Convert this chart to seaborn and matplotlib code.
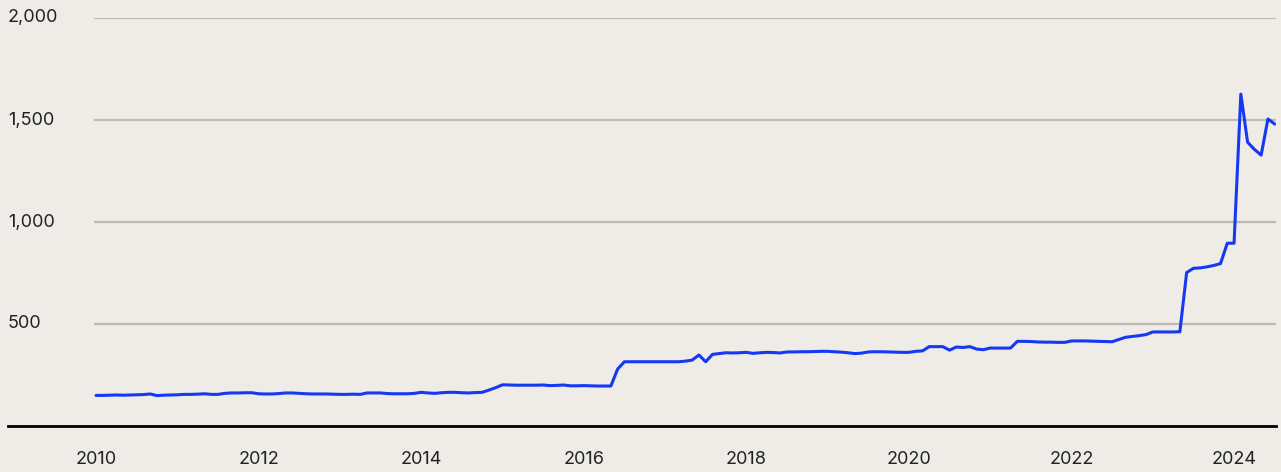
import numpy as np
import pandas as pd
import matplotlib
matplotlib.use("Agg")
import matplotlib.pyplot as plt
import seaborn as sns

# Monthly values, Jan 2010 .. Jul 2024
start_year = 2010
values_2010 = [150, 150, 151, 152, 151, 152, 153, 154, 157, 149, 151, 152]
values_2011 = [153, 155, 155, 156, 158, 155, 155, 160, 162, 162, 163, 163]
values_2012 = [158, 157, 157, 159, 162, 162, 160, 158, 157, 157, 157, 156]
values_2013 = [155, 155, 156, 155, 162, 162, 162, 159, 158, 158, 158, 160]
values_2014 = [165, 162, 160, 163, 165, 165, 163, 162, 164, 165, 176, 188]
values_2015 = [202, 201, 200, 200, 200, 200, 201, 198, 199, 201, 197, 197]
values_2016 = [198, 197, 196, 196, 196, 279, 315, 315, 315, 315, 315, 315]
values_2017 = [315, 315, 315, 318, 323, 348, 315, 351, 355, 359, 358, 359]
values_2018 = [361, 356, 359, 361, 360, 358, 363, 363, 364, 364, 365, 366]
values_2019 = [366, 364, 362, 359, 355, 357, 363, 364, 364, 363, 362, 361]
values_2020 = [361, 366, 368, 389, 389, 389, 372, 387, 385, 389, 377, 374]
values_2021 = [382, 382, 382, 382, 415, 415, 414, 412, 411, 411, 410, 410]
values_2022 = [417, 417, 417, 416, 415, 414, 413, 424, 435, 439, 443, 448]
values_2023 = [461, 461, 461, 461, 462, 752, 773, 775, 780, 787, 796, 896]
values_2024 = [896, 1627, 1391, 1356, 1328, 1505, 1480]

y_ticks = [500, 1000, 1500, 2000]
x_ticks = [2010, 2012, 2014, 2016, 2018, 2020, 2022, 2024]

values = (values_2010 + values_2011 + values_2012 + values_2013 + values_2014 +
          values_2015 + values_2016 + values_2017 + values_2018 + values_2019 +
          values_2020 + values_2021 + values_2022 + values_2023 + values_2024)
df = pd.DataFrame({"t": start_year + np.arange(len(values)) / 12.0, "v": values})

sns.set_theme(style="white")
plt.rcParams["font.family"] = ["Inter", "DejaVu Sans"]

BG = "#efece7"
TXT = "#1f2328"
fig = plt.figure(figsize=(12.81, 4.72), dpi=100, facecolor=BG)
W, H = 1281, 472
ax = fig.add_axes([8 / W, 1 - 426 / H, (1276 - 8) / W, (426 - 18) / H])
ax.set_facecolor(BG)

xmin, xmax = 2008.917, 2024.516
ax.set_xlim(xmin, xmax)
ax.set_ylim(0, 2000)

ax.hlines(y_ticks, 2009.98, xmax, color="#bdb9b3", linewidth=1.6, zorder=1)

sns.lineplot(data=df, x="t", y="v", ax=ax, color="#1538f2", linewidth=2.2, zorder=3)

for s in ["top", "right", "left"]:
    ax.spines[s].set_visible(False)
ax.spines["bottom"].set_color("black")
ax.spines["bottom"].set_linewidth(2.0)

ax.set_xticks(x_ticks)
ax.set_xticklabels([str(x) for x in x_ticks])
ax.tick_params(axis="x", direction="out", length=10, width=2.0, color="black",
               pad=8, labelsize=13, labelcolor=TXT)

ax.set_yticks(y_ticks)
ax.set_yticklabels([f"{y:,}" for y in y_ticks])
ax.tick_params(axis="y", length=0, pad=0, labelsize=13, labelcolor=TXT)
for lab in ax.get_yticklabels():
    lab.set_horizontalalignment("left")
    lab.set_verticalalignment("center")

ax.set_xlabel("")
ax.set_ylabel("")
ax.grid(False)

fig.savefig("out.png", dpi=100, facecolor=BG)
